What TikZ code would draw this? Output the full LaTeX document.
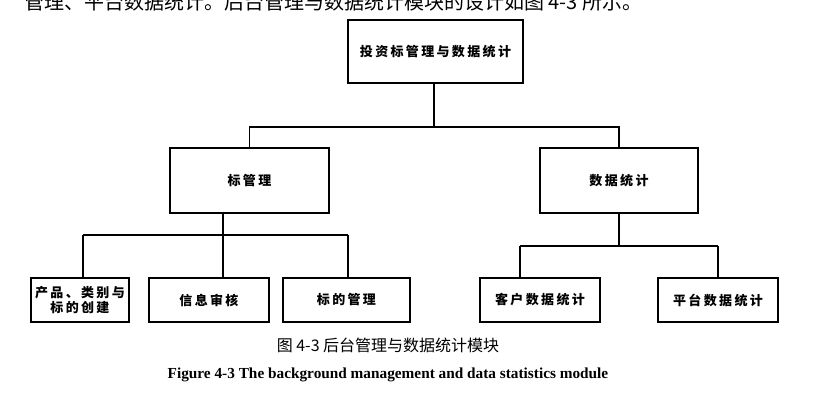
\documentclass[tikz,border=0pt]{standalone}
\usepackage{fontspec}
\setmainfont{Liberation Serif}
\newfontfamily\cjk{Noto Sans CJK SC}
\newfontfamily\boxfont[LetterSpace=18]{Noto Sans CJK SC}
\begin{document}
\begin{tikzpicture}[x=1pt,y=-1pt,
  box/.style={draw,line width=1.6pt,inner sep=0pt,align=center,
    font=\boxfont\bfseries\fontsize{13}{15}\selectfont},
  link/.style={line width=1.6pt}]
\useasboundingbox (0,0) rectangle (820,405);
% partial text line at the top
\node[anchor=base west,inner sep=0pt] (intro) at (24,9.5)
  {\cjk\fontsize{20}{24}\selectfont 管理、平台数据统计。后台管理与数据统计模块的设计如图 4-3 所示。};
% boxes
\node[box,minimum width=175pt,minimum height=63pt] (top) at (435.5,51.5) {投资标管理与数据统计};
\node[box,minimum width=159pt,minimum height=65pt] (lm) at (249.5,180.5) {标管理};
\node[box,minimum width=158pt,minimum height=65pt] (rm) at (619,180.5) {数据统计};
\node[box,minimum width=98pt,minimum height=44pt] (b1) at (80,300) {产品、类别与\\标的创建};
\node[box,minimum width=120pt,minimum height=44pt] (b2) at (209,300) {信息审核};
\node[box,minimum width=127pt,minimum height=44pt] (b3) at (346.5,300) {标的管理};
\node[box,minimum width=120pt,minimum height=44pt] (b4) at (540,300) {客户数据统计};
\node[box,minimum width=120pt,minimum height=44pt] (b5) at (718,300) {平台数据统计};
% junction points
\coordinate (j0) at (434,127);
\coordinate (jl) at (223,235);
\coordinate (jr) at (619,246);
\coordinate (d1) at (83,235);
\coordinate (d3) at (348,235);
\coordinate (d4) at (520,246);
\coordinate (d5) at (718,246);
% connectors
\draw[link] (top.south -| j0) -- (j0);
\draw[link] (lm.north) |- (j0) -| (rm.north);
\draw[link] (lm.south -| jl) -- (jl);
\draw[link] (d1) -- (d3);
\draw[link] (d1) -- (b1.north -| d1);
\draw[link] (jl) -- (b2.north -| jl);
\draw[link] (d3) -- (b3.north -| d3);
\draw[link] (rm.south -| jr) -- (jr);
\draw[link] (d4) -- (d5);
\draw[link] (d4) -- (b4.north -| d4);
\draw[link] (d5) -- (b5.north -| d5);
% captions
\node[inner sep=0pt] (cap1) at (388,345) {\cjk\fontsize{16}{18}\selectfont 图\ 4-3 后台管理与数据统计模块};
\node[inner sep=0pt] (cap2) at (388,375) {\bfseries\fontsize{15.3}{18}\selectfont Figure 4-3 The background management and data statistics module};
\end{tikzpicture}
\end{document}
